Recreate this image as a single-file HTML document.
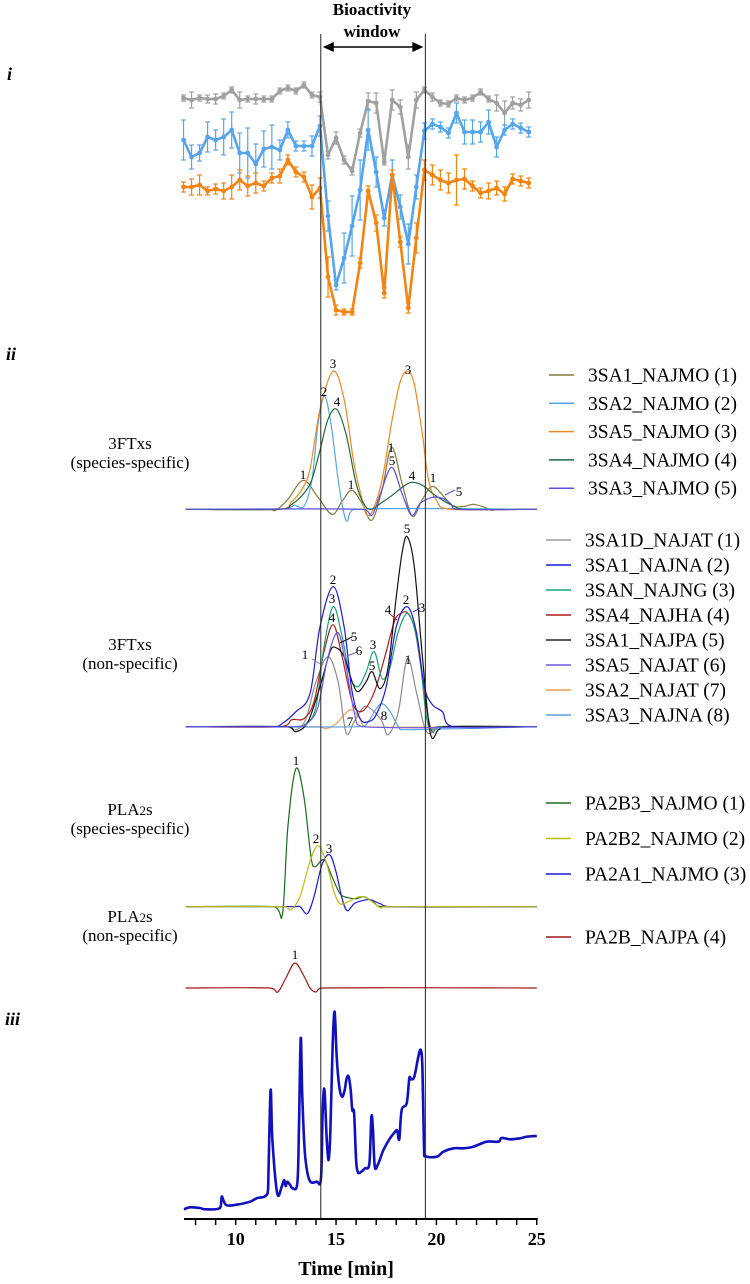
<!DOCTYPE html>
<html><head><meta charset="utf-8"><style>
html,body{margin:0;padding:0;background:#fff;}
svg{display:block;font-family:"Liberation Serif",serif;}
</style></head><body>
<svg id="chart" width="750" height="1284" viewBox="0 0 750 1284" xmlns="http://www.w3.org/2000/svg">
<g id="static">
<text x="372" y="15" text-anchor="middle" font-weight="bold" font-size="17">Bioactivity</text>
<text x="372" y="37" text-anchor="middle" font-weight="bold" font-size="17">window</text>
<text x="7" y="80" font-weight="bold" font-style="italic" font-size="18">i</text>
<text x="6" y="360" font-weight="bold" font-style="italic" font-size="18">ii</text>
<text x="5" y="1025" font-weight="bold" font-style="italic" font-size="18">iii</text>
<text x="130" y="449" text-anchor="middle" font-size="17">3FTxs</text>
<text x="130" y="468" text-anchor="middle" font-size="17">(species-specific)</text>
<text x="130" y="650" text-anchor="middle" font-size="17">3FTxs</text>
<text x="130" y="669" text-anchor="middle" font-size="17">(non-specific)</text>
<text x="130" y="815" text-anchor="middle" font-size="17">PLA<tspan font-size="13">2</tspan>s</text>
<text x="130" y="834" text-anchor="middle" font-size="17">(species-specific)</text>
<text x="130" y="922" text-anchor="middle" font-size="17">PLA<tspan font-size="13">2</tspan>s</text>
<text x="130" y="941" text-anchor="middle" font-size="17">(non-specific)</text>
</g>
<g id="plot"></g>
</svg>
<script>
// ---------- axis ----------
const xTicks=[8,9,10,11,12,13,14,15,16,17,18,19,20,21,22,23,24,25];
const xTickLabels=[10,15,20,25];
const windowBounds=[14.24,19.45];
// ---------- panel i (bioactivity) ----------
const bioTimes=[7.4,7.8,8.2,8.6,9.0,9.4,9.8,10.2,10.6,11.0,11.4,11.8,12.2,12.6,13.0,13.4,13.8,14.2,14.6,15.0,15.4,15.8,16.2,16.6,17.0,17.4,17.8,18.2,18.6,19.0,19.4,19.8,20.2,20.6,21.0,21.4,21.8,22.2,22.6,23.0,23.4,23.8,24.2,24.6];
const grayVals=[232,230,232,231,231,234,240,230,231,231,231,231,239,242,239,245,235,233,175,192,170,159,197,229,227,168,230,223,173,230,240,233,227,226,232,230,232,238,231,227,217,227,225,230];
const grayErr=[3,8,3,4,5,3,3,8,3,5,3,3,3,3,3,3,3,5,4,6,4,4,4,8,10,3,10,7,12,8,3,4,3,3,3,3,3,3,3,8,12,6,6,8];
const blueVals=[190,173,177,193,190,193,200,177,177,166,181,183,180,200,184,184,184,204,114,45,72,104,140,200,158,112,155,123,86,143,199,206,203,197,217,198,198,198,208,183,200,206,202,198];
const blueErr=[20,12,8,15,10,18,18,20,25,20,18,22,10,8,5,5,10,10,15,5,25,30,30,20,15,8,15,12,20,12,8,5,5,5,10,12,12,10,12,10,5,5,5,5];
const orangeVals=[143,143,145,139,141,139,143,150,144,147,144,152,154,170,158,153,133,142,53,20,18,18,67,139,107,37,155,88,22,92,160,155,150,147,150,151,144,137,139,142,136,151,149,147];
const orangeErr=[5,8,10,4,5,8,12,10,10,10,5,5,7,5,5,5,12,10,20,5,3,3,5,5,8,5,5,5,5,15,10,10,10,10,25,10,5,5,8,7,7,5,5,5];
// ---------- panel ii: 3FTx species-specific ----------
const s1T=[7.5,11.6,12.0,12.6,13.37,14.1,14.8,15.3,15.78,16.3,16.78,17.3,17.77,18.3,18.8,19.3,19.8,20.4,20.84,21.4,21.84,22.4,22.75,23.2,25];
const s1V=[0,0,-1,10,29,12,-5,8,19,6,-11,20,62,25,-7,10,23,12,3,3,5,2,-1,0,0];
const s2T=[7.5,12.3,12.9,13.4,13.8,14.1,14.42,14.75,15.1,15.35,15.56,15.9,25];
const s2V=[0,0,4,3,30,85,113,85,30,0,-12,0,0];
const s3T=[7.5,12.2,12.8,13.3,13.7,14.2,14.86,15.4,15.9,16.36,16.55,16.85,17.3,17.8,18.2,18.55,18.9,19.3,19.6,20.0,20.7,25];
const s3V=[0,0,8,20,40,100,138,110,45,5,-6,0,30,90,128,138,125,75,30,9,0,0];
const s4T=[7.5,12.2,12.8,13.4,13.8,14.2,14.6,15.03,15.5,16.0,16.4,16.75,17.3,17.8,18.3,18.77,19.3,19.8,20.4,20.9,21.4,25];
const s4V=[0,0,5,16,30,59,90,100,75,26,5,0,7,14,22,27,24,16,8,3,0,0];
const s5T=[7.5,16.3,16.78,17.2,17.77,18.3,18.77,19.2,19.8,20.3,20.7,21.0,25];
const s5V=[0,0,-6,15,42,15,-6,6,12,11,6,0,0];
// ---------- panel ii: 3FTx non-specific ----------
const n1T=[7.5,12.5,13.0,13.5,14.0,14.6,15.1,15.5,15.9,16.4,16.9,17.3,17.6,18.1,18.55,19.0,19.4,19.7,20.0,25];
const n1V=[0,0,-3,8,45,70,45,-6,5,20,15,5,-8,15,68,35,0,-7,0,0];
const n2T=[7.5,11.8,12.3,13.0,13.7,14.2,14.86,15.4,15.8,16.2,16.6,17.0,17.5,18.0,18.55,19.0,19.4,19.8,20.3,20.8,25];
const n2V=[0,0,3,15,33,100,140,100,35,8,5,12,40,100,120,95,40,22,15,0,0];
const n3T=[7.5,12.8,13.5,14.0,14.4,14.86,15.3,15.7,16.1,16.5,16.9,17.3,17.7,18.1,18.6,19.1,19.5,19.8,20.2,25];
const n3V=[0,0,3,20,80,120,90,50,40,55,75,48,60,95,113,80,10,-5,0,0];
const n4T=[7.5,12.2,12.8,13.4,13.9,14.4,14.86,15.3,15.8,16.2,16.6,17.0,17.5,17.9,18.2,18.6,19.0,19.5,19.8,20.2,25];
const n4V=[0,0,7,8,25,75,102,70,25,15,22,40,75,105,113,113,90,20,-5,0,0];
const n5T=[7.5,12.5,13.0,13.6,14.2,14.7,15.0,15.4,15.8,16.1,16.5,16.8,17.2,17.6,18.0,18.3,18.55,18.9,19.3,19.7,20.1,20.5,25];
const n5V=[0,0,-5,5,40,75,79,70,45,35,45,55,38,60,130,175,190,160,70,-7,-3,0,0];
const n6T=[7.5,13.0,13.6,14.1,14.6,15.1,15.5,15.9,16.3,25];
const n6V=[0,0,4,20,70,94,60,15,0,0];
const n7T=[7.5,14.0,14.5,15.0,15.4,15.78,16.2,16.5,25];
const n7V=[0,0,-2,3,12,17,8,0,0];
const n8T=[7.5,16.2,16.6,17.0,17.3,17.7,18.1,18.4,25];
const n8V=[0,0,5,18,23,15,0,-3,0];
// ---------- panel ii: PLA2 ----------
const p1T=[7.5,11.9,12.33,12.6,13.0,13.4,13.75,13.95,14.4,14.8,15.2,15.6,16.0,16.4,16.9,17.3,25];
const p1V=[0,0,-7,80,138,110,50,40,47,30,13,9,8,10,4,0,0];
const p2T=[7.5,12.4,12.75,13.2,13.7,14.1,14.5,14.9,15.2,15.6,16.0,16.36,16.8,17.2,17.5,25];
const p2V=[0,0,-3,10,45,61,45,15,3,5,9,10,5,-1,0,0];
const p3T=[7.5,12.8,13.2,13.57,13.9,14.3,14.68,15.0,15.3,15.56,15.9,16.3,16.7,17.2,17.8,25];
const p3V=[0,0,0,-7,10,42,52,35,8,-4,3,6,7,3,0,0];
const q1T=[7.5,11.7,12.1,12.5,12.95,13.4,13.7,14.0,14.3,25];
const q1V=[0,0,-4,10,25,12,0,-4,0,0];
// ---------- panel iii: UV chromatogram ----------
const uvT=[7.42,7.72,8.22,8.47,9.22,9.30,9.38,9.55,10.05,10.71,11.04,11.59,11.64,11.74,11.83,12.07,12.29,12.41,12.49,12.57,12.71,12.84,13.07,13.15,13.24,13.32,13.45,13.67,14.04,14.25,14.33,14.42,14.53,14.63,14.72,14.83,14.93,15.03,15.16,15.30,15.43,15.53,15.63,15.73,15.81,15.90,16.00,16.08,16.19,16.44,16.66,16.76,16.84,16.93,17.11,17.36,17.69,17.94,18.05,18.15,18.27,18.52,18.65,18.74,18.90,19.10,19.22,19.30,19.38,19.45,20.02,20.35,20.85,21.34,21.84,22.51,23.09,23.25,23.67,24.17,24.50,25.00];
const uvV=[9.7,11.7,11,9.7,11,22.3,19,13.7,14.3,17.3,20.7,25.7,52.3,129,79,25.7,32.3,39,33,37.3,34,30.7,35.7,89,180.7,122.3,65.7,39,37.3,40.7,105.7,129.7,82.3,59,89,172.3,207.3,162.3,132.3,122.3,129,140.7,142.3,129,109,105.7,59,47.3,46.3,50.7,55.7,102.3,89,52.3,55.7,69,80.7,87.3,88.3,79.7,109,115.7,140.7,139.7,142.3,162.3,169,152.3,72.3,63,62.3,67.3,70.7,70.7,72.3,77.3,77.3,81,79.7,80.7,82.3,83];

const NS="http://www.w3.org/2000/svg";
const plot=document.getElementById('plot');
function X(t){return 235.7+(t-10)*20.07;}
function mk(tag,attrs,parent){const e=document.createElementNS(NS,tag);for(const k in attrs)e.setAttribute(k,attrs[k]);(parent||plot).appendChild(e);return e;}
function smoothPath(ts,vs,Y){
  const p=ts.map((t,i)=>[X(t),Y(vs[i])]);
  let d='M'+p[0][0].toFixed(1)+','+p[0][1].toFixed(1);
  for(let i=0;i<p.length-1;i++){
    const p0=p[i>0?i-1:i],p1=p[i],p2=p[i+1],p3=p[i+2<p.length?i+2:i+1];
    let c1x=p1[0]+(p2[0]-p0[0])/6,c1y=p1[1]+(p2[1]-p0[1])/6;
    let c2x=p2[0]-(p3[0]-p1[0])/6,c2y=p2[1]-(p3[1]-p1[1])/6;
    c1x=Math.min(Math.max(c1x,p1[0]),p2[0]);c2x=Math.min(Math.max(c2x,p1[0]),p2[0]);
    d+=' C'+c1x.toFixed(1)+','+c1y.toFixed(1)+' '+c2x.toFixed(1)+','+c2y.toFixed(1)+' '+p2[0].toFixed(1)+','+p2[1].toFixed(1);
  }
  return d;
}
function trace(ts,vs,base,color,name,w){
  const p=mk('path',{d:smoothPath(ts,vs,v=>base-v),fill:'none',stroke:color,'stroke-width':w||1.2});
  
  
}
function label(x,y,txt,name){
  const t=mk('text',{x:x,y:y,'font-size':13,'text-anchor':'middle'});t.textContent=txt;
  
  
}
function leader(x1,y1,x2,y2,color){mk('line',{x1:x1,y1:y1,x2:x2,y2:y2,stroke:color,'stroke-width':1});}
function legend(y,color,txt,x0,name){
  const g=mk('g',{});
  
  
  mk('line',{x1:x0,y1:y,x2:x0+25,y2:y,stroke:color,'stroke-width':1.5},g);
  const t=mk('text',{x:x0+39,y:y+6.5,'font-size':19.5},g);t.textContent=txt;
}

// panel i
const bioY=v=>330-v;
function bioSeries(vals,errs,color,name){
  const g=mk('g',{});
  
  
  vals.forEach((v,i)=>{const x=X(bioTimes[i]),y=bioY(v),e=errs[i];
    mk('line',{x1:x,y1:y-e,x2:x,y2:y+e,stroke:color,'stroke-width':1.2},g);
    mk('line',{x1:x-2.5,y1:y-e,x2:x+2.5,y2:y-e,stroke:color,'stroke-width':1.2},g);
    mk('line',{x1:x-2.5,y1:y+e,x2:x+2.5,y2:y+e,stroke:color,'stroke-width':1.2},g);});
  mk('polyline',{points:vals.map((v,i)=>X(bioTimes[i]).toFixed(1)+','+bioY(v).toFixed(1)).join(' '),fill:'none',stroke:color,'stroke-width':2.6,'stroke-linejoin':'round'},g);
  vals.forEach((v,i)=>{mk('circle',{cx:X(bioTimes[i]),cy:bioY(v),r:2.4,fill:color},g);});
}
bioSeries(grayVals,grayErr,'#a0a0a0','bioactivity-series-gray');
bioSeries(blueVals,blueErr,'#55a5ee','bioactivity-series-blue');
bioSeries(orangeVals,orangeErr,'#f5830f','bioactivity-series-orange');

// 3FTx species-specific
const b1=509.3;
trace(s1T,s1V,b1,'#857a3c','trace-3sa1-najmo');
trace(s2T,s2V,b1,'#55a5ee','trace-3sa2-najmo');
trace(s3T,s3V,b1,'#f08a1c','trace-3sa5-najmo');
trace(s4T,s4V,b1,'#1e6b3c','trace-3sa4-najmo');
trace(s5T,s5V,b1,'#5a4ee6','trace-3sa3-najmo');
leader(445,495,455,490,'#5a4ee6');
[[333,368,'3'],[324,396,'2'],[337,406,'4'],[303,479,'1'],[351,489,'1'],[391,452,'1'],[392,465,'5'],[412,480,'4'],[433,482,'1'],[459,496,'5'],[408,374,'3']].forEach((l,i)=>label(l[0],l[1],l[2],'peak-label-species-'+i));

// 3FTx non-specific
const b2=726.7;
trace(n7T,n7V,b2,'#f0a050','trace-3sa2-najat');
trace(n8T,n8V,b2,'#5aa0e6','trace-3sa3-najna');
trace(n1T,n1V,b2,'#8c8c8c','trace-3sa1d-najat');
trace(n4T,n4V,b2,'#b01c1c','trace-3sa4-najha');
trace(n3T,n3V,b2,'#1aa37a','trace-3san-najng');
trace(n5T,n5V,b2,'#111111','trace-3sa1-najpa');
trace(n2T,n2V,b2,'#1a1adb','trace-3sa1-najna');
trace(n6T,n6V,b2,'#6a5ce6','trace-3sa5-najat');
leader(312,659,322,665,'#8c8c8c');leader(340,643,352,637,'#111');leader(347,656,357,652,'#6a5ce6');
leader(390,614,397,620,'#b01c1c');leader(413,612,420,608,'#1a1adb');
[[333,584,'2'],[332,603,'3'],[332,622,'4'],[354,641,'5'],[359,655,'6'],[305,659,'1'],[373,649,'3'],[372,670,'5'],[408,664,'1'],[388,614,'4'],[406,604,'2'],[422,612,'3'],[407,533,'5'],[350,726,'7'],[384,720,'8']].forEach((l,i)=>label(l[0],l[1],l[2],'peak-label-nonspecific-'+i));

// PLA2
const b3=906.7;
trace(p1T,p1V,b3,'#1e6b1e','trace-pa2b3-najmo');
trace(p3T,p3V,b3,'#1a1adb','trace-pa2a1-najmo');
trace(p2T,p2V,b3,'#bcbc10','trace-pa2b2-najmo');
[[296,765,'1'],[316,843,'2'],[329,853,'3']].forEach((l,i)=>label(l[0],l[1],l[2],'peak-label-pla2-'+i));
const b4=988;
trace(q1T,q1V,b4,'#a01818','trace-pa2b-najpa');
label(295,959,'1','peak-label-pla2-nonspecific');

// UV chromatogram
const uv=mk('path',{d:smoothPath(uvT,uvV,v=>1219-v),fill:'none',stroke:'#1010c0','stroke-width':2.6,'stroke-linejoin':'round'});



// window lines & arrow
windowBounds.forEach((t,i)=>{const l=mk('line',{x1:X(t),y1:34,x2:X(t),y2:1219,stroke:'#222','stroke-width':1});
  
  });
const ax1=X(windowBounds[0])+2,ax2=X(windowBounds[1])-2;
const arr=mk('g',{});


mk('line',{x1:ax1+8,y1:47,x2:ax2-8,y2:47,stroke:'#000','stroke-width':1.5},arr);
mk('polygon',{points:`${ax1},47 ${ax1+11},42 ${ax1+11},52`,fill:'#000'},arr);
mk('polygon',{points:`${ax2},47 ${ax2-11},42 ${ax2-11},52`,fill:'#000'},arr);

// x axis
const axis=mk('g',{});


mk('line',{x1:184,y1:1219,x2:X(25)+1,y2:1219,stroke:'#000','stroke-width':2},axis);
xTicks.forEach(t=>mk('line',{x1:X(t),y1:1219,x2:X(t),y2:1225,stroke:'#000','stroke-width':1.5},axis));
xTickLabels.forEach(t=>{const e=mk('text',{x:X(t),y:1245,'text-anchor':'middle','font-size':18,'font-weight':'bold'},axis);e.textContent=t;});
const xt=mk('text',{x:X(15.5),y:1275,'text-anchor':'middle','font-size':20,'font-weight':'bold'});
xt.textContent='Time [min]';



// legends
[['#857a3c','3SA1_NAJMO (1)'],['#55a5ee','3SA2_NAJMO (2)'],['#f08a1c','3SA5_NAJMO (3)'],['#1e6b3c','3SA4_NAJMO (4)'],['#5a4ee6','3SA3_NAJMO (5)']].forEach((e,i)=>legend(375+i*28.3,e[0],e[1],549,'legend-entry-species-'+(i+1)));
[['#999','3SA1D_NAJAT (1)'],['#1a1adb','3SA1_NAJNA (2)'],['#1aa37a','3SAN_NAJNG (3)'],['#b01c1c','3SA4_NAJHA (4)'],['#222','3SA1_NAJPA (5)'],['#6a5ce6','3SA5_NAJAT (6)'],['#f0a050','3SA2_NAJAT (7)'],['#5aa0e6','3SA3_NAJNA (8)']].forEach((e,i)=>legend(540+i*25,e[0],e[1],546,'legend-entry-nonspecific-'+(i+1)));
[['#1e6b1e','PA2B3_NAJMO (1)'],['#bcbc10','PA2B2_NAJMO (2)'],['#1a1adb','PA2A1_NAJMO (3)']].forEach((e,i)=>legend(803+i*35.5,e[0],e[1],546,'legend-entry-pla2-'+(i+1)));
legend(937,'#a01818','PA2B_NAJPA (4)',546,'legend-entry-pla2-nonspecific');
</script>
</body></html>
